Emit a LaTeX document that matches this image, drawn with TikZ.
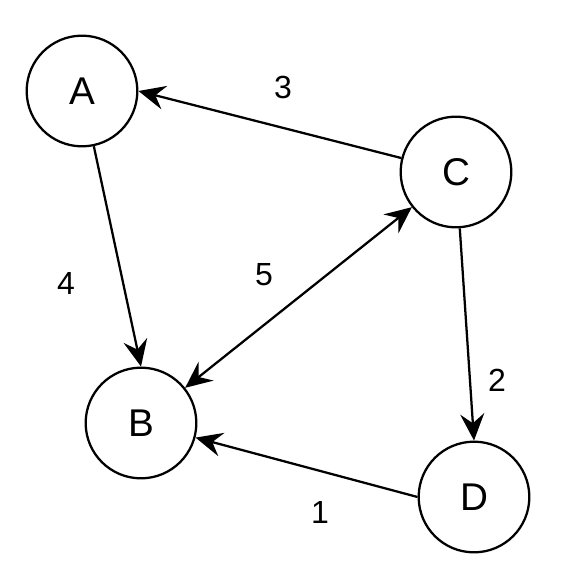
\documentclass[tikz,border=0pt]{standalone}
\usepackage{fontspec}
\setmainfont{Liberation Sans}
\usetikzlibrary{arrows.meta}
\tikzset{
  >={Stealth[length=20pt, width=18pt, inset=7pt]},
  vertex/.style={draw=black, line width=1.7pt, circle, minimum size=83pt, inner sep=0pt, font=\fontsize{29}{34}\selectfont},
  link/.style={line width=1.7pt, ->},
  wlabel/.style={font=\fontsize{24}{28}\selectfont}
}
\begin{document}
\begin{tikzpicture}[x=0.75pt, y=-0.75pt]
  \useasboundingbox (0,0) rectangle (565,574);

  % Vertices
  \node[vertex] (A) at (82,91) {A};
  \node[vertex] (C) at (456,172) {C};
  \node[vertex] (B) at (141,423) {B};
  \node[vertex] (D) at (474,497) {D};

  % Edges
  \draw[link] (C) -- (A.east);
  \draw[link] (A) -- (B.north);
  \draw[link, <->] (B) -- (C);
  \draw[link] (C) -- (D.north);
  \draw[link] (D.west) -- (B);

  % Weights
  \node[wlabel] (w3) at (283,87) {3};
  \node[wlabel] (w4) at (66,283) {4};
  \node[wlabel] (w5) at (264,275) {5};
  \node[wlabel] (w2) at (497,380) {2};
  \node[wlabel] (w1) at (320,512) {1};
\end{tikzpicture}
\end{document}
